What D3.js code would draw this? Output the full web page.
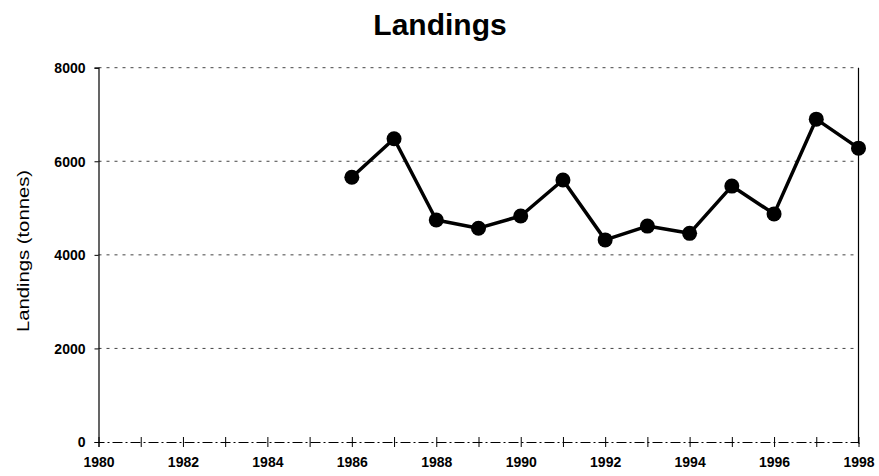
<!DOCTYPE html>
<html><head><meta charset="utf-8">
<script src="https://cdn.jsdelivr.net/npm/d3@7"></script>
<style>body{margin:0;background:#fff}svg{display:block}</style>
</head><body>
<svg id="c" width="879" height="476"></svg>
<script>
const years = [1986,1987,1988,1989,1990,1991,1992,1993,1994,1995,1996,1997,1998];
const landings = [5660,6480,4745,4570,4830,5600,4320,4615,4460,5470,4875,6900,6280];
const xTicks = [1980,1982,1984,1986,1988,1990,1992,1994,1996,1998];
const yTicks = [0,2000,4000,6000,8000];

const svg = d3.select("#c");
const L=98.5, R=858.5, T=67.7, B=442;
const x = d3.scaleLinear().domain([1980,1998]).range([L,R]);
const y = d3.scaleLinear().domain([0,8000]).range([B,T]);
const font = "'Liberation Sans', Arial, sans-serif";

// gridlines
svg.append("g").selectAll("line").data(yTicks.filter(d=>d>0)).join("line")
  .attr("x1",L).attr("x2",R).attr("y1",d=>y(d)).attr("y2",d=>y(d))
  .attr("stroke","#444").attr("stroke-width",1).attr("stroke-dasharray","3,5");

// right border
svg.append("line").attr("x1",R).attr("x2",R).attr("y1",T).attr("y2",B)
  .attr("stroke","#000").attr("stroke-width",1.2);

// y axis
const ya = svg.append("g").attr("transform",`translate(${L},0)`)
  .call(d3.axisLeft(y).tickValues(yTicks).tickSize(4).tickFormat(d3.format("d")));
ya.select(".domain").attr("stroke","#000").attr("stroke-width",1.2);
ya.selectAll("text").attr("font-family",font).attr("font-weight","bold")
  .attr("font-size","14px").attr("fill","#000").attr("x",-13).attr("dy","0.35em");

// x axis
const xa = svg.append("g").attr("transform",`translate(0,${B})`)
  .call(d3.axisBottom(x).tickValues(d3.range(1980,1999)).tickSize(5)
    .tickFormat(d=> xTicks.includes(d)? String(d):""));
xa.select(".domain").attr("stroke","#000").attr("stroke-width",1).attr("stroke-dasharray","10,3,2,3");
xa.selectAll(".tick line").attr("y1",-5).attr("y2",5).attr("stroke","#000");
xa.selectAll("text").attr("font-family",font).attr("font-weight","bold")
  .attr("font-size","14px").attr("fill","#000").attr("y",15).attr("dy","0.71em");

// line
svg.append("path").datum(years.map((yr,i)=>[yr,landings[i]]))
  .attr("fill","none").attr("stroke","#000").attr("stroke-width",3.5)
  .attr("stroke-linejoin","round")
  .attr("d", d3.line().x(d=>x(d[0])).y(d=>y(d[1])));
svg.append("g").selectAll("circle").data(years).join("circle")
  .attr("cx",d=>x(d)).attr("cy",(d,i)=>y(landings[i])).attr("r",7.5).attr("fill","#000");

// title
svg.append("text").attr("x",440).attr("y",35).attr("text-anchor","middle")
  .attr("font-family",font).attr("font-weight","bold").attr("font-size","30px").text("Landings");

// y label
svg.append("text").attr("transform","translate(29,251) rotate(-90)").attr("text-anchor","middle")
  .attr("font-family",font).attr("font-size","17px")
  .attr("textLength",162).attr("lengthAdjust","spacingAndGlyphs").text("Landings (tonnes)");
</script>
</body></html>
